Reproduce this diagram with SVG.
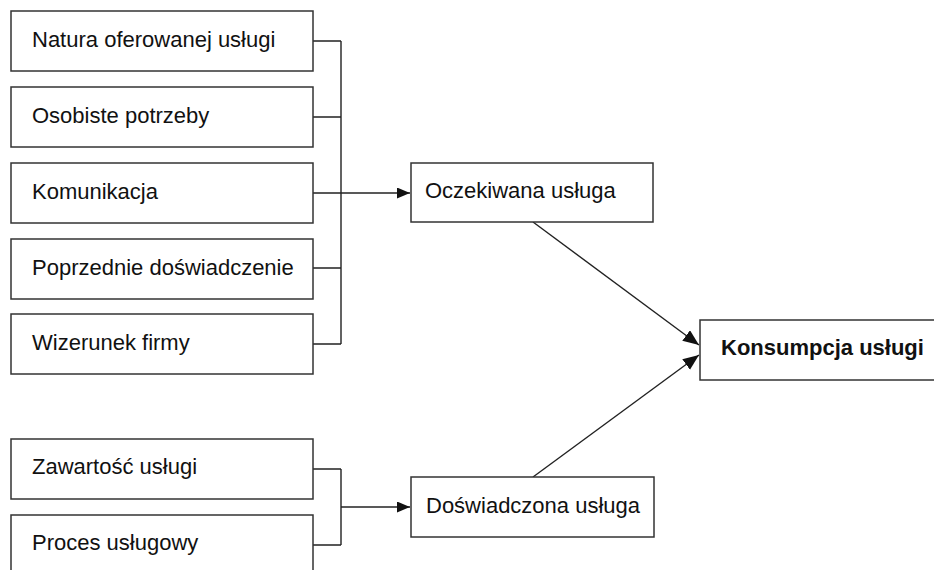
<svg xmlns="http://www.w3.org/2000/svg" width="934" height="570" viewBox="0 0 934 570">
<style>
.box{fill:#fff;stroke:#333;stroke-width:1.5}
.t{font-family:"Liberation Sans",Arial,sans-serif;font-size:22px;fill:#111}
.b{font-weight:bold}
.c{fill:none;stroke:#222;stroke-width:1.4}
</style>
<defs>
<marker id="ah" markerUnits="userSpaceOnUse" markerWidth="14" markerHeight="12" refX="13" refY="5.5" orient="auto">
<path d="M0,0 L13,5.5 L0,11 z" fill="#111"/>
</marker>
<marker id="ah2" markerUnits="userSpaceOnUse" markerWidth="17" markerHeight="14" refX="16" refY="6.5" orient="auto">
<path d="M0,0 L16,6.5 L0,13 z" fill="#111"/>
</marker>
</defs>
<rect width="934" height="570" fill="#fff"/>
<g id="connectors">
<path class="c" d="M313,41 H341 M313,117 H341 M313,193 H341 M313,268 H341 M313,344 H341 M341,41 V344"/>
<path class="c" d="M341,193 H410" marker-end="url(#ah)"/>
<path class="c" d="M313,469 H341 M313,545 H341 M341,469 V545"/>
<path class="c" d="M341,507 H410" marker-end="url(#ah)"/>
<path class="c" d="M533,222 L699,345" marker-end="url(#ah2)"/>
<path class="c" d="M533,477 L699,355" marker-end="url(#ah2)"/>
</g>
<g id="n1"><rect class="box" x="11" y="11" width="302" height="60"/><text class="t" x="32" y="47">Natura oferowanej usługi</text></g>
<g id="n2"><rect class="box" x="11" y="87" width="302" height="60"/><text class="t" x="32" y="123">Osobiste potrzeby</text></g>
<g id="n3"><rect class="box" x="11" y="163" width="302" height="60"/><text class="t" x="32" y="199">Komunikacja</text></g>
<g id="n4"><rect class="box" x="11" y="239" width="302" height="60"/><text class="t" x="32" y="275">Poprzednie doświadczenie</text></g>
<g id="n5"><rect class="box" x="11" y="314" width="302" height="60"/><text class="t" x="32" y="350">Wizerunek firmy</text></g>
<g id="n6"><rect class="box" x="11" y="439" width="302" height="60"/><text class="t" x="32" y="474">Zawartość usługi</text></g>
<g id="n7"><rect class="box" x="11" y="515" width="302" height="70"/><text class="t" x="32" y="550">Proces usługowy</text></g>
<g id="n8"><rect class="box" x="411" y="163" width="242" height="59"/><text class="t" x="425" y="198">Oczekiwana usługa</text></g>
<g id="n9"><rect class="box" x="411" y="477" width="243" height="60"/><text class="t" x="426" y="513">Doświadczona usługa</text></g>
<g id="n10"><rect class="box" x="700" y="320" width="250" height="60"/><text class="t b" x="721" y="355">Konsumpcja usługi</text></g>
</svg>
